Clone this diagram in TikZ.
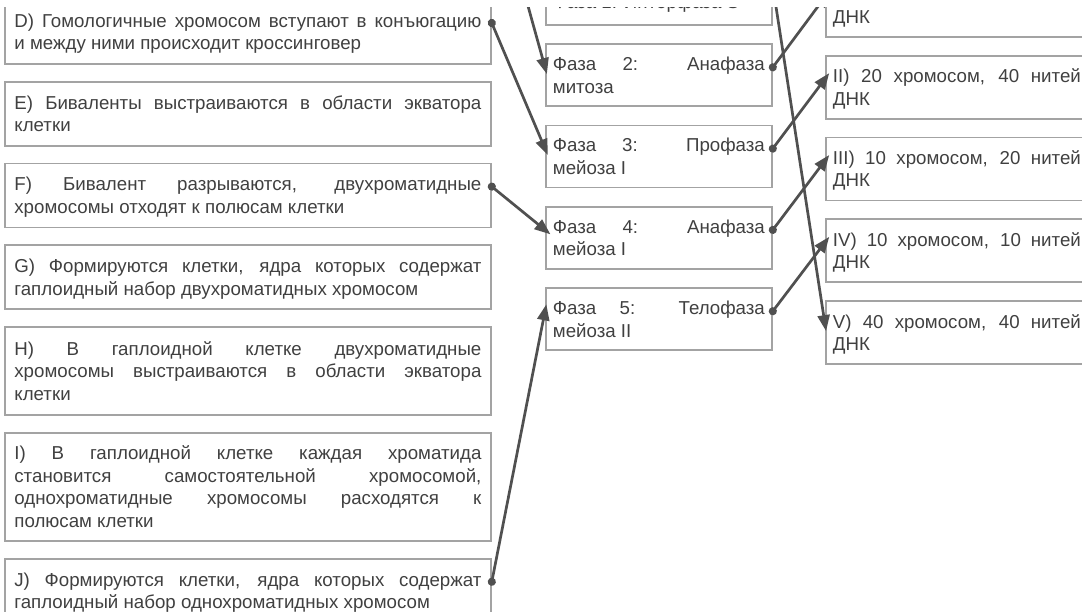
\documentclass[tikz,border=0pt]{standalone}
\usepackage{fontspec}
\setmainfont{Liberation Sans}
\usetikzlibrary{arrows.meta,positioning}
\definecolor{boxgray}{HTML}{A3A3A3}
\definecolor{txtgray}{HTML}{404040}
\definecolor{wiregray}{HTML}{505050}
\setlength{\parindent}{0pt}
\tolerance=10000
\hbadness=10000
\hyphenpenalty=10000
\exhyphenpenalty=10000

\begin{document}
\begin{tikzpicture}[x=1pt,y=-1pt,
  card/.style={draw=boxgray,line width=1.8pt,text=txtgray,anchor=north west,
    font=\fontsize{18.7}{22.5}\selectfont,align=justify,inner ysep=4pt,
    execute at begin node={\rule{0pt}{18pt}},
    execute at end node={\rule[-4.5pt]{0pt}{4.5pt}}},
  qcard/.style={card,text width=467pt,inner xsep=9.5pt,minimum height=64pt},
  pcard/.style={card,text width=212pt,inner xsep=7pt,minimum height=62pt},
  acard/.style={card,text width=248pt,inner xsep=7pt,minimum height=63pt},
  link/.style={draw=wiregray,line width=2.7pt,
    {Circle[length=8pt]}-{Triangle[length=16pt,width=12pt]},
    shorten <=-4pt,shorten >=-7pt}]
 \useasboundingbox (0,0) rectangle (1082,612);
 \clip (0,8) rectangle (1082,612);

 % left column: events
 \node[qcard] (D) at (4,-1) {D) Гомологичные хромосом вступают в конъюгацию\linebreak и между ними происходит кроссинговер};
 \node[qcard,below=16pt of D] (E) {E) Биваленты выстраиваются в области экватора\linebreak клетки};
 \node[qcard,below=16pt of E] (F) {F) Бивалент разрываются, двухроматидные\linebreak хромосомы отходят к полюсам клетки};
 \node[qcard,below=16pt of F] (G) {G) Формируются клетки, ядра которых содержат\linebreak гаплоидный набор двухроматидных хромосом};
 \node[qcard,minimum height=88pt,below=16pt of G] (H) {H) В гаплоидной клетке двухроматидные\linebreak хромосомы выстраиваются в области экватора\linebreak клетки};
 \node[qcard,minimum height=108pt,below=16pt of H] (I) {I) В гаплоидной клетке каждая хроматида\linebreak становится самостоятельной хромосомой,\linebreak однохроматидные хромосомы расходятся к\linebreak полюсам клетки};
 \node[qcard,below=16pt of I] (J) {J) Формируются клетки, ядра которых содержат\linebreak гаплоидный набор однохроматидных хромосом};
 \coordinate (srcC) at (490,-131);

 % middle column: phases
 \node[pcard] (ph1) at (545,-38) {\vspace{-6pt}\linebreak Фаза 1: Интерфаза S};
 \node[pcard,below=17.5pt of ph1] (ph2) {Фаза 2: Анафаза\linebreak митоза};
 \node[pcard,below=17.5pt of ph2] (ph3) {Фаза 3: Профаза\linebreak мейоза I};
 \node[pcard,below=17.5pt of ph3] (ph4) {Фаза 4: Анафаза\linebreak мейоза I};
 \node[pcard,below=17.5pt of ph4] (ph5) {Фаза 5: Телофаза\linebreak мейоза II};

 % right column: chromosome sets
 \node[acard] (r1) at (825,-27) {\linebreak ДНК};
 \node[acard,below=17pt of r1] (r2) {II) 20 хромосом, 40 нитей\linebreak ДНК};
 \node[acard,below=17pt of r2] (r3) {III) 10 хромосом, 20 нитей\linebreak ДНК};
 \node[acard,below=17pt of r3] (r4) {IV) 10 хромосом, 10 нитей\linebreak ДНК};
 \node[acard,below=17pt of r4] (r5) {V) 40 хромосом, 40 нитей\linebreak ДНК};

 \draw[link] (srcC) -- ([yshift=-24pt]ph2.north west);
 \draw[link] ([yshift=-24pt]D.north east) -- ([yshift=-24pt]ph3.north west);
 \draw[link] ([yshift=-24pt]F.north east) -- ([yshift=-24pt]ph4.north west);
 \draw[link] ([yshift=-24pt]J.north east) -- ([yshift=-24pt]ph5.north west);
 \draw[link] ([yshift=-24pt]ph1.north east) -- ([yshift=-24pt]r5.north west);
 \draw[link] ([yshift=-24pt]ph2.north east) -- ([yshift=-24pt]r1.north west);
 \draw[link] ([yshift=-24pt]ph3.north east) -- ([yshift=-24pt]r2.north west);
 \draw[link] ([yshift=-24pt]ph4.north east) -- ([yshift=-24pt]r3.north west);
 \draw[link] ([yshift=-24pt]ph5.north east) -- ([yshift=-24pt]r4.north west);
\end{tikzpicture}
\end{document}
